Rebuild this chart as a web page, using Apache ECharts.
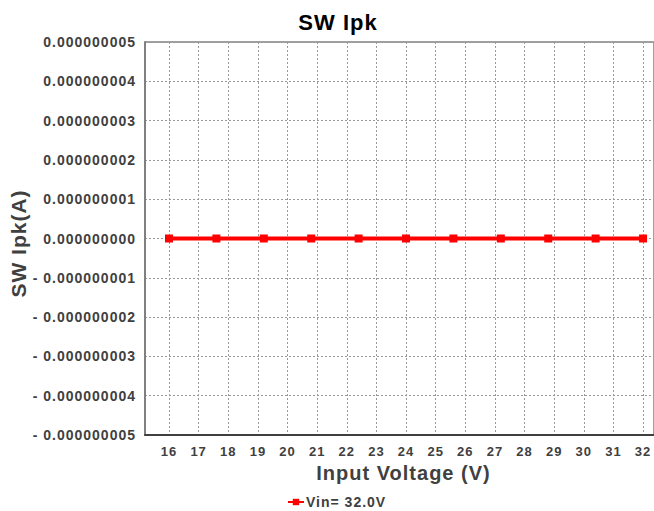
<!DOCTYPE html>
<html>
<head>
<meta charset="utf-8">
<script src="https://cdn.jsdelivr.net/npm/echarts@6/dist/echarts.min.js"></script>
<style>html,body{margin:0;padding:0;background:#fff}#c{width:654px;height:511px}#c text{letter-spacing:1px}</style>
</head>
<body>
<div id="c"></div>
<script>
const xValues = [16, 17.6, 19.2, 20.8, 22.4, 24, 25.6, 27.2, 28.8, 30.4, 32];
const swIpk = [0, 0, 0, 0, 0, 0, 0, 0, 0, 0, 0];
const xTicks = [16, 17, 18, 19, 20, 21, 22, 23, 24, 25, 26, 27, 28, 29, 30, 31, 32];
const seriesName = 'Vin= 32.0V';

const font = '"Liberation Sans", Arial, sans-serif';
const chart = echarts.init(document.getElementById('c'), null, { renderer: 'svg' });
chart.setOption({
  animation: false,
  title: {
    text: 'SW Ipk', left: 333, top: 6, textAlign: 'center',
    textStyle: { fontFamily: font, fontSize: 22, fontWeight: 'bold', color: '#000' }
  },
  legend: {
    bottom: -3, left: 282, itemWidth: 16, itemHeight: 8, itemGap: 2,
    data: [seriesName],
    textStyle: { fontFamily: font, fontSize: 14, fontWeight: 'bold', color: '#404040', padding: [0, 0, 0, -3] }
  },
  grid: { left: 145, right: 0, top: 42, bottom: 76, show: true, borderColor: '#404040', borderWidth: 1 },
  xAxis: {
    type: 'value', min: 15.19, max: 32.37,
    name: 'Input Voltage (V)', nameLocation: 'middle', nameGap: 26,
    nameTextStyle: { fontFamily: font, fontSize: 20, fontWeight: 'bold', color: '#404040', padding: [0, 0, 0, 8] },
    axisLine: { show: true, onZero: false, lineStyle: { color: '#404040', width: 2 } },
    axisTick: { show: false, customValues: xTicks },
    axisLabel: { customValues: xTicks, fontFamily: font, fontSize: 13, fontWeight: 'bold', color: '#404040', margin: 10 },
    splitLine: { show: true, lineStyle: { color: '#999', type: [2, 2], width: 1 } }
  },
  yAxis: {
    type: 'value', min: -5e-9, max: 5e-9, interval: 1e-9,
    name: 'SW Ipk(A)', nameLocation: 'middle', nameGap: 116, nameRotate: 90,
    nameTextStyle: { fontFamily: font, fontSize: 21, fontWeight: 'bold', color: '#404040', padding: [0, 10, 0, 0] },
    axisLine: { show: true, lineStyle: { color: '#808080', width: 2 } },
    axisTick: { show: false },
    axisLabel: {
      fontFamily: font, fontSize: 14, fontWeight: 'bold', color: '#404040', margin: 9,
      formatter: function (v) {
        const r = Math.round(v * 1e9);
        const s = (Math.abs(r) / 1e9).toFixed(9);
        return r < 0 ? '- ' + s : s;
      }
    },
    splitLine: { show: true, lineStyle: { color: '#999', type: [2, 2], width: 1 } }
  },
  series: [{
    name: seriesName, type: 'line',
    data: xValues.map((x, i) => [x, swIpk[i]]),
    symbol: 'rect', symbolSize: 8, showSymbol: true,
    lineStyle: { color: '#ff0000', width: 4 },
    itemStyle: { color: '#ff0000' }
  }]
});
</script>
</body>
</html>
